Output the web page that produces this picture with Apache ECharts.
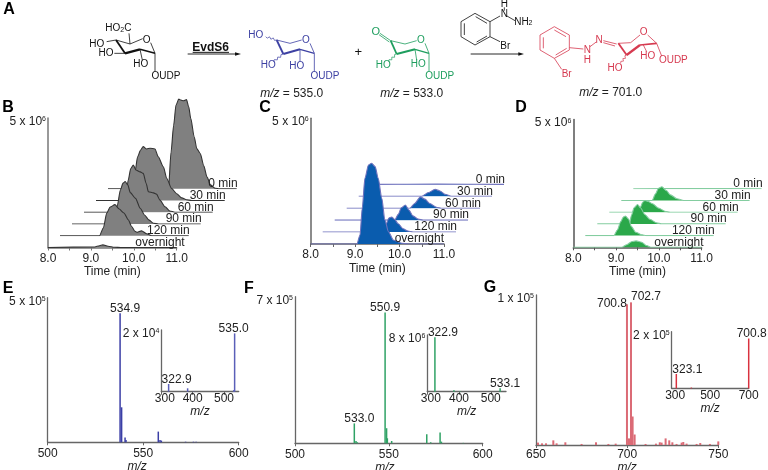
<!DOCTYPE html>
<html><head><meta charset="utf-8">
<style>html,body{margin:0;padding:0;background:#fff}#c{width:768px;height:470px}</style>
<script src="https://cdn.jsdelivr.net/npm/echarts@6/dist/echarts.min.js"></script>
</head><body><div id="c"></div>
<script>
const ridgeNames=['overnight','120 min','90 min','60 min','30 min','0 min'];
// panel B, time (min) vs intensity (x 10^6)
const bOvernight=[[8,0],[9.09,.02],[9.2,.07],[9.28,.1],[9.4,.05],[9.55,.01],[9.7,0],[11,0]];
const b120=[[8,0],[8.92,0],[9.01,.3],[9.09,.88],[9.17,1.11],[9.28,1.2],[9.38,1.03],[9.49,.88],[9.59,.62],[9.67,.36],[9.75,.17],[9.8,.13],[9.9,.19],[10.02,.08],[10.14,0],[11,0]];
const b90=[[8,0],[8.97,0],[9.05,.67],[9.13,1.32],[9.19,1.58],[9.24,1.64],[9.3,1.51],[9.36,1.21],[9.48,.99],[9.59,.61],[9.69,.35],[9.79,.16],[9.9,.03],[10.02,0],[11,0]];
const b60=[[8,0],[8.92,0],[8.98,.59],[9.03,1.24],[9.09,1.69],[9.15,1.82],[9.21,1.63],[9.31,1.56],[9.38,1.5],[9.45,1.11],[9.5,.79],[9.62,.75],[9.69,.7],[9.77,.47],[9.89,.21],[10,.05],[10.12,0],[11,0]];
const b30=[[8,0],[8.83,0],[8.91,1.11],[8.97,1.69],[9.04,1.95],[9.1,2.08],[9.18,1.99],[9.26,2.02],[9.375,1.99],[9.45,1.69],[9.57,1.3],[9.65,.85],[9.76,.47],[9.88,.26],[10,.1],[10.11,.03],[10.23,0],[11,0]];
const b0=[[8,0],[9.41,0],[9.47,1.42],[9.53,2.45],[9.585,3.23],[9.65,3.46],[9.7,3.42],[9.76,3.4],[9.83,3.44],[9.88,3.17],[9.93,2.71],[10.01,2],[10.07,1.55],[10.15,1.36],[10.23,.9],[10.31,.45],[10.39,.15],[10.5,.02],[10.6,0],[11,0]];
// panel C
const cOvernight=[[8,0],[9.04,0],[9.11,.36],[9.16,1.42],[9.22,2.61],[9.3,3.14],[9.37,3.21],[9.45,3.08],[9.52,2.61],[9.6,1.82],[9.67,.95],[9.75,.49],[9.86,.16],[10.05,.03],[10.2,0],[11,0]];
const c120=[[8,0],[9.36,0],[9.43,.33],[9.49,.56],[9.55,.6],[9.62,.5],[9.7,.33],[9.81,.13],[9.92,.04],[10.03,0],[11,0]];
const c90=[[8,0],[9.35,0],[9.43,.23],[9.5,.49],[9.59,.6],[9.67,.4],[9.76,.17],[9.88,.04],[9.99,0],[11,0]];
const c60=[[8,0],[9.42,0],[9.53,.19],[9.66,.45],[9.76,.36],[9.87,.19],[10.02,.04],[10.13,0],[11,0]];
const c30=[[8,0],[9.42,0],[9.57,.15],[9.72,.28],[9.83,.21],[9.94,.08],[10.09,0],[11,0]];
const c0=[[8,0],[9.5,.01],[11,0]];
// panel D
const dOvernight=[[8,0],[9.13,0],[9.25,.1],[9.36,.22],[9.47,.25],[9.6,.2],[9.71,.07],[9.83,0],[11,0]];
const d120=[[8,0],[8.67,0],[8.75,.22],[8.83,.55],[8.89,.73],[8.94,.77],[9.01,.65],[9.08,.35],[9.18,.13],[9.32,.03],[9.43,0],[11,0]];
const d90=[[8,0],[8.75,0],[8.8,.34],[8.86,.63],[8.94,.76],[9.01,.63],[9.11,.37],[9.23,.18],[9.39,.04],[9.5,0],[11,0]];
const d60=[[8,0],[8.64,0],[8.73,.2],[8.78,.39],[8.83,.46],[8.91,.42],[9.01,.33],[9.15,.16],[9.3,.04],[9.42,0],[11,0]];
const d30=[[8,0],[8.72,0],[8.8,.26],[8.87,.48],[8.95,.54],[9.05,.39],[9.15,.22],[9.3,.07],[9.46,0],[11,0]];
const d0=[[8,0],[9.5,.01],[11,0]];
// mass spectra: m/z vs intensity
const ePeaks=[[538.7,1.21],[540.5,.17],[541,.08],[557.9,.37],[558.8,.08],[559.5,.06],[572.2,.02],[576.3,.02],[577.7,.02]];
const eMain=[537.9,4.46];
const eInset=[[384,.11],[403,.01],[531,.05]];
const eInset1=[323.4,.25];const eInset2=[534,1.89];
const fPeaks=[[548.8,.72],[549.2,.24],[532.5,.11],[533.2,.05],[551.5,.11],[570.2,.43],[572.3,.05],[577.3,.52],[578,.08],[589.7,.02]];
const fMain=[548,6.24];const fSecond=[531.6,.95];
const fInset=[[384,.19],[403,.05]];
const fInset1=[324,7.67];const fInset2=[529.5,.47];
const gPeaks=[[701,.044],[703,.19],[704.1,.07],[651.1,.016],[653.3,.011],[655.5,.011],[659.5,.031],[661.3,.011],[666.1,.018],[675,.007],[682.9,.018],[689.7,.007],[693.7,.009],[710.1,.007],[715.8,.009],[717.9,.018],[718.9,.016],[721.1,.044],[723.1,.031],[724.8,.018],[727.1,.007],[729.9,.016],[730.8,.02],[732.6,.009],[738.1,.007],[740.1,.013],[745.4,.007],[750,.024]];
const gMain1=[699.9,.938];const gMain2=[702.1,.951];
const gInset=[[402,.03]];
const gInset1=[324,.51];const gInset2=[700,1.76];

const font='"Liberation Sans",Arial,sans-serif',ink='#222',axisGrey='#666';
const grids=[],xAxes=[],yAxes=[],series=[];
function yLabel(txt,exp,max){
  return {show:true,margin:2,padding:[7,0,0,0],color:ink,fontFamily:font,fontSize:12,
    formatter:v=>v===max?`{t|${txt}}{s|${exp}}`:'',
    rich:{t:{fontSize:12,fontFamily:font,color:ink},s:{fontSize:7,fontFamily:font,color:ink,verticalAlign:'top'}}};
}
function addGrid(g,x,y){g.outerBoundsMode='none';grids.push(g);x.gridIndex=y.gridIndex=grids.length-1;xAxes.push(x);yAxes.push(y);return grids.length-1;}

function ridgePanel(o){
  // back ridge first
  for(let i=5;i>=0;i--){
    const front=i===0;
    const base=o.base-i*o.dy, left=o.left+i*o.dx;
    const gi=addGrid({left,top:base-o.h,width:o.w,height:o.h},
      front?{type:'value',min:8,max:11,interval:.5,axisLine:{show:true,lineStyle:{color:o.axis,width:1.5}},
        axisTick:{show:true,length:3,lineStyle:{color:o.axis}},splitLine:{show:false},
        axisLabel:{margin:5,color:ink,fontFamily:font,fontSize:12,hideOverlap:false,formatter:v=>Number.isInteger(v)?v.toFixed(1):''},
        name:'Time (min)',nameLocation:'middle',nameGap:o.nameGap,nameTextStyle:{color:ink,fontFamily:font,fontSize:12}}
      :{type:'value',min:8,max:11,show:false},
      front?{type:'value',min:0,max:5,interval:5,axisLine:{show:true,lineStyle:{color:o.axis,width:1.5}},axisTick:{show:false},splitLine:{show:false},axisLabel:yLabel('5 x 10','6',5)}
      :{type:'value',min:0,max:5,show:false});
    const pts=o.sets[i];
    series.push({type:'line',xAxisIndex:gi,yAxisIndex:gi,z:10+(5-i),smooth:.25,smoothMonotone:'x',showSymbol:true,showAllSymbol:true,symbol:'circle',symbolSize:0,
      lineStyle:{color:o.line,width:1.1},itemStyle:{color:o.line,opacity:0},areaStyle:{color:o.fill,opacity:1},
      data:pts.map((p,k)=>k===pts.length-1?{value:p,label:{show:true,position:'left',distance:0,offset:[front?o.nightShift:1,-5],formatter:ridgeNames[i],color:ink,fontFamily:font,fontSize:12,opacity:1}}:{value:p})});
  }
}
ridgePanel({left:48,base:247.5,dx:12,dy:11.75,w:128.7,h:129.5,fill:'#808080',line:'#333',axis:'#777',nightShift:8,nameGap:16,sets:[bOvernight,b120,b90,b60,b30,b0]});
ridgePanel({left:310.7,base:244,dx:12,dy:11.93,w:133.3,h:125.7,fill:'#0a5cae',line:'#6f72bd',axis:'#666',nightShift:0,nameGap:19,sets:[cOvernight,c120,c90,c60,c30,c0]});
ridgePanel({left:573.3,base:247.3,dx:12,dy:11.7,w:128.3,h:127.7,fill:'#2ba84a',line:'#84cda0',axis:'#555',nightShift:2,nameGap:16,sets:[dOvernight,d120,d90,d60,d30,d0]});

function lab(p,text,off){const o=off||[0,0];return {value:p,label:{show:true,position:'top',distance:2,offset:[o[0],o[1]+3],formatter:text,color:ink,fontFamily:font,fontSize:12}};}
function spectrum(o){
  const gi=addGrid({left:o.left,top:o.top,width:o.w,height:o.h},
    {type:'value',min:o.min,max:o.max,interval:o.interval,axisLine:{show:true,lineStyle:{color:axisGrey,width:1.3}},
      axisTick:{show:o.tick!==false,length:3,lineStyle:{color:axisGrey}},splitLine:{show:false},
      axisLabel:{margin:o.margin,color:ink,fontFamily:font,fontSize:12,showMaxLabel:o.showMax,
        formatter:o.fmt||(v=>String(v)),rich:{p:{padding:[0,0,0,7],fontSize:12,fontFamily:font,color:ink}}},
      name:'m/z',nameLocation:'middle',nameGap:o.nameGap,nameTextStyle:{color:ink,fontFamily:font,fontSize:12,fontStyle:'italic',padding:o.namePad||0}},
    {type:'value',min:0,max:o.ymax,interval:o.ymax,axisLine:{show:true,lineStyle:{color:axisGrey,width:1.3}},axisTick:{show:false},splitLine:{show:false},axisLabel:yLabel(o.ylab,o.exp,o.ymax)});
  series.push({type:'bar',xAxisIndex:gi,yAxisIndex:gi,z:o.z||5,clip:false,barWidth:o.bw||1.5,barGap:'-100%',animation:false,itemStyle:{color:o.color},data:o.data});
}
const pad300=v=>v===300?'{p|300}':String(v);
spectrum({left:47.7,top:297.7,w:191,h:144.6,min:500,max:600,interval:50,ymax:5,ylab:'5 x 10',exp:'5',color:'#3b3fa6',margin:5,nameGap:18,
  data:[lab(eMain,'534.9',[5,0]),...ePeaks],namePad:[0,12,0,0]});
spectrum({left:161.3,top:330,w:77.4,h:61.7,min:300,max:547,interval:100,ymax:2,ylab:'2 x 10',exp:'4',color:'#5a5fb8',margin:1,nameGap:12,z:6,fmt:pad300,showMax:false,
  data:[lab(eInset1,'322.9',[8,1]),lab(eInset2,'535.0',[-1,0]),...eInset]});
spectrum({left:295,top:296.7,w:187.7,h:146.6,min:500,max:600,interval:50,ymax:7,ylab:'7 x 10',exp:'5',color:'#2fa265',margin:5,nameGap:17,
  data:[lab(fMain,'550.9',[0,0]),lab(fSecond,'533.0',[5,0]),...fPeaks],namePad:[0,8,0,0]});
spectrum({left:427.3,top:335,w:78.7,h:56.7,min:300,max:548,interval:100,ymax:8,ylab:'8 x 10',exp:'6',color:'#2fa265',margin:1,nameGap:12,z:6,fmt:pad300,showMax:false,
  data:[lab(fInset1,'322.9',[8,0]),lab(fInset2,'533.1',[5,0]),...fInset]});
spectrum({left:536,top:295,w:182.3,h:150,min:650,max:750,interval:50,ymax:1,ylab:'1 x 10',exp:'5',color:'#db6b76',margin:4,bw:2,nameGap:16,
  data:[lab(gMain1,'700.8',[-15,4]),lab(gMain2,'702.7',[15,-1]),...gPeaks]});
spectrum({left:671.7,top:331.7,w:77,h:56.7,min:300,max:700,interval:200,ymax:2,ylab:'2 x 10',exp:'5',color:'#d9323f',margin:1,nameGap:12,z:6,tick:false,fmt:pad300,
  data:[lab(gInset1,'323.1',[11,1]),lab(gInset2,'700.8',[3,0]),...gInset]});

// ---- reaction scheme drawn as annotation graphics ----
const gfx=[];
const richS={s:{fontSize:7,fontFamily:font,verticalAlign:'bottom'},t:{fontFamily:font,fontSize:10},i:{fontFamily:font,fontSize:12,fontStyle:'italic'},n:{fontFamily:font,fontSize:12}};
function scheme(ox,color,lines,wedges,wavy,texts,fills){
  const X=x=>ox+x/3,Y=y=>y/3;
  lines.forEach(l=>gfx.push({type:'line',silent:true,z:50,shape:{x1:X(l[0]),y1:Y(l[1]),x2:X(l[2]),y2:Y(l[3])},style:{stroke:color,lineWidth:l[4]||.8}}));
  wavy.forEach(w=>{const pts=[],n=6;for(let k=0;k<=n;k++){const t=k/n,dx=w[2]-w[0],dy=w[3]-w[1],L=Math.hypot(dx,dy),s=k%2?3:-3;
    pts.push([X(w[0]+dx*t+(k&&k<n?-dy/L*s:0)),Y(w[1]+dy*t+(k&&k<n?dx/L*s:0))]);}
    gfx.push({type:'polyline',silent:true,z:50,shape:{points:pts},style:{stroke:color,fill:null,lineWidth:.7}});});
  texts.forEach(t=>gfx.push({type:'text',silent:true,z:51,x:X(t[1]),y:Y(t[2]),style:{text:t[0],fill:t[5]||color,fontFamily:font,fontSize:t[3]||10,fontWeight:t[4]||'normal',align:'center',verticalAlign:'middle',rich:richS}}));
  (fills||[]).forEach(a=>gfx.push({type:'polygon',silent:true,z:50,shape:{points:a.map(p=>[X(p[0]),Y(p[1])])},style:{fill:color}}));
}
// substrate
scheme(85,'#111',[[93,120,135,132],[135,132,173,116],[197,128,210,160],[210,160,165,148,1.6],[165,148,120,160,2.2],[93,120,120,160,1.8],[135,132,132,100],[93,120,65,125],[120,160,88,160],[165,148,172,180],[210,160,210,215],[308,162,452,162,.9],[323,157,432,157,1]],
  [],[],[['{t|HO}{s|2}{t|C}',100,86],['HO',35,132],['HO',63,160],['HO',167,193],['OUDP',243,228],['O',185,120],['EvdS6',377,143,12,'bold']],
  [[[450,157],[468,162],[450,167]]]);
// blue product
scheme(245,'#3d41a3',[[95,120,135,130],[135,130,170,120],[195,130,208,160],[208,160,165,148,1.4],[165,148,115,162,2],[95,120,115,162,1.8],[165,148,165,185],[208,160,208,215]],
  [],[[62,110,95,120],[115,162,85,185]],[['HO',32,107],['HO',70,196],['HO',155,200],['OUDP',240,228],['O',183,120]]);
scheme(245,'#111',[],[],[],[['+',340,157,13],['{i|m/z} {n|= 535.0}',140,280,12,'normal','#222'],['{i|m/z} {n|= 533.0}',500,280,12,'normal','#222']]);
// green product
scheme(245,'#1e9e5e',[[437,122,480,132],[480,132,515,122],[540,130,552,160],[552,160,510,148,1.2],[510,148,455,162,2],[437,122,455,162,1.8],[437,122,405,100],[433,126,402,104],[510,148,515,180],[552,160,552,215]],
  [],[[455,162,430,185]],[['O',392,95,11],['HO',415,196],['HO',520,192],['OUDP',584,228],['O',528,120]]);
// reagent
scheme(455,'#111',[[60,40,105,65],[105,65,105,110],[105,110,60,135],[60,135,18,110],[18,110,18,65],[18,65,60,40],[28,70,28,105],[62,50,96,70],[65,126,96,108],[105,65,135,48],[148,22,148,32],[156,48,180,62],[105,110,135,125],[47,162,192,162,.9]],
  [],[],[['H',148,12],['N',148,42],['{t|NH}{s|2}',205,66],['Br',151,138]],[[[190,157],[207,162],[190,167]]]);
// red product
scheme(455,'#d63a50',[[298,80,343,105],[343,105,343,150],[343,150,298,175],[298,175,255,150],[255,150,255,105],[255,105,298,80],[265,112,265,145],[298,90,333,110],[302,165,335,145],[343,143,385,147],[405,140,425,125],[445,122,485,132],[445,128,480,138],[490,130,527,128],[527,128,555,105],[578,105,605,130],[605,130,555,135,1.6],[555,135,515,165,2.2],[490,130,515,165,1.8],[565,135,575,155],[605,130,620,168],[298,175,320,208]],
  [],[[515,165,497,190]],[['N',397,150],['H',397,180],['N',432,120],['O',566,98],['HO',480,205],['HO',578,170],['OUDP',655,180],['Br',335,222]]);
scheme(455,'#111',[],[],[],[['{i|m/z} {n|= 701.0}',467,278,12,'normal','#222']]);
// panel letters
[['A',9,10],['B',8,108],['C',265,108],['D',521,108],['E',8,289],['F',249,289],['G',490,288]].forEach(l=>
  gfx.push({type:'text',silent:true,z:52,x:l[1],y:l[2],style:{text:l[0],fill:'#000',fontFamily:font,fontSize:16,fontWeight:'bold',align:'center',verticalAlign:'middle'}}));

const chart=echarts.init(document.getElementById('c'),null,{renderer:'canvas'});
chart.setOption({animation:false,backgroundColor:'#fff',textStyle:{fontFamily:font},tooltip:{show:false},
  grid:grids,xAxis:xAxes,yAxis:yAxes,series,graphic:{elements:gfx}});
</script></body></html>
